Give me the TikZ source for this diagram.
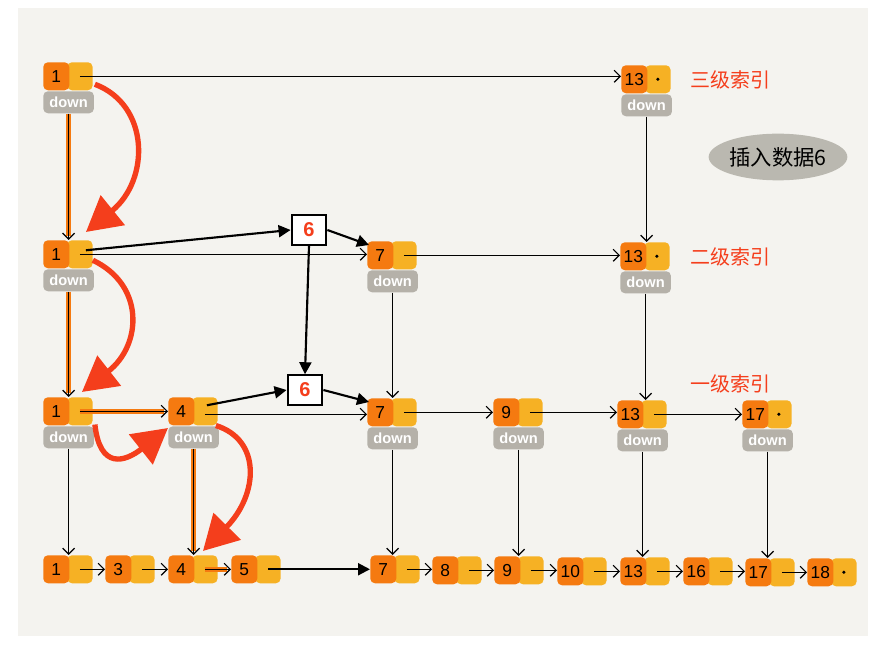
\documentclass[tikz,border=0pt]{standalone}
\usepackage{fontspec}
\setmainfont{Liberation Sans}
\newfontfamily\cjk{Noto Sans CJK SC}
\usetikzlibrary{arrows.meta,calc,shapes.geometric}
\definecolor{korange}{HTML}{F57A10}
\definecolor{kyellow}{HTML}{F6B124}
\definecolor{kgray}{HTML}{B5B1A9}
\definecolor{kred}{HTML}{F43E1C}
\definecolor{kbg}{HTML}{F4F3EF}
\definecolor{blobgray}{HTML}{BAB8B0}
\newcommand\sk[4]{%
  \node[ycell,anchor=north west] (#1n) at (#2+24,#3) {};
  \node[kcell,anchor=north west] (#1) at (#2,#3) {#4};}
\newcommand\sd[3]{\node[dcell,anchor=north west] (#1d) at (#2,#3+29) {down};}
\newcommand\dotin[1]{\fill (#1n.center) circle (1.3pt);}
\begin{document}
\begin{tikzpicture}[x=0.75pt,y=-0.75pt,
  kcell/.style={fill=korange,rounded corners=3.5pt,minimum width=19.5pt,minimum height=21pt,inner sep=0pt,font=\fontsize{13}{13}\selectfont},
  ycell/.style={fill=kyellow,rounded corners=3.5pt,minimum width=19pt,minimum height=21pt,inner sep=0pt},
  dcell/.style={fill=kgray,rounded corners=3.5pt,minimum width=38pt,minimum height=16.5pt,inner sep=0pt,text=white,font=\bfseries\fontsize{11}{11}\selectfont},
  sixbox/.style={draw=black,line width=1.6pt,fill=white,minimum width=26pt,minimum height=22pt,inner sep=0pt,text=kred,font=\bfseries\fontsize{15}{15}\selectfont},
  tarrow/.style={draw=black,line width=0.9pt,-{Straight Barb[length=4.5pt,width=9pt]}},
  karrow/.style={draw=black,line width=1.6pt,-{Triangle[length=9pt,width=9pt]}},
  hl/.style={draw=korange,line width=4pt},
  redarrow/.style={draw=kred,line width=4pt,-{Triangle[length=26pt,width=28pt]}},
  lvl/.style={text=kred,font=\cjk\fontsize{15}{15}\selectfont,anchor=west,inner sep=0pt}]
\fill[white] (0,0) rectangle (882,648);
\fill[kbg] (18,8) rectangle (868,636);
\useasboundingbox (0,0) rectangle (882,648);

% level 3
\sk{t1}{43}{62}{1} \sd{t1}{43}{62}
\sk{t13}{621}{65}{13} \sd{t13}{621}{65} \dotin{t13}
% level 2
\sk{s1}{43}{240}{1} \sd{s1}{43}{240}
\sk{s7}{367}{241}{7} \sd{s7}{367}{241}
\sk{s13}{620}{242}{13} \sd{s13}{620}{242} \dotin{s13}
% level 1
\sk{f1}{43}{397}{1} \sd{f1}{43}{397}
\sk{f4}{168}{397}{4} \sd{f4}{168}{397}
\sk{f7}{367}{398}{7} \sd{f7}{367}{398}
\sk{f9}{493}{398}{9} \sd{f9}{493}{398}
\sk{f13}{617}{400}{13} \sd{f13}{617}{400}
\sk{f17}{742}{400}{17} \sd{f17}{742}{400} \dotin{f17}
% bottom
\sk{b1}{43}{555}{1}
\sk{b3}{105}{555}{3}
\sk{b4}{168}{555}{4}
\sk{b5}{231}{555}{5}
\sk{b7}{370}{555}{7}
\sk{b8}{432}{556}{8}
\sk{b9}{494}{556}{9}
\sk{b10}{557}{557}{10}
\sk{b13}{620}{557}{13}
\sk{b16}{683}{557}{16}
\sk{b17}{745}{558}{17}
\sk{b18}{807}{558}{18} \dotin{b18}

% inserted 6
\node[sixbox] (six2) at (309,230) {6};
\node[sixbox] (six1) at (305,390) {6};

% labels
\node[lvl] (l3) at (690,80) {三级索引};
\node[lvl] (l2) at (690,257) {二级索引};
\node[lvl] (l1) at (690,384) {一级索引};
\node[ellipse,fill=blobgray,minimum width=104pt,minimum height=35pt,inner sep=0pt] (blob) at (778,157) {};
\node[font=\cjk\fontsize{16}{16}\selectfont] (blobtext) at (blob.center) {插入数据6};

% horizontal thin arrows
\draw[tarrow] (t1n.center) -- (t1n.center -| t13.west);
\draw[tarrow] (s1n.center) -- (s1n.center -| s7.west);
\draw[tarrow] (s7n.center) -- (s7n.center -| s13.west);
\draw[hl] (f1n.center) -- ($(f1n.center -| f4.west)+(-4,0)$);
\draw[tarrow] (f1n.center) -- (f1n.center -| f4.west);
\draw[tarrow] ($(f4n.center)+(0,3)$) -- ($(f4n.center -| f7.west)+(0,3)$);
\draw[tarrow] (f7n.center) -- (f7n.center -| f9.west);
\draw[tarrow] (f9n.center) -- (f9n.center -| f13.west);
\draw[tarrow] (f13n.center) -- (f13n.center -| f17.west);
% thick insertion arrows
\draw[karrow] ($(s1n.center)+(6,-4)$) -- (six2.west);
\draw[karrow] (six2.east) -- ($(s7.north west)+(2,4)$);
\draw[karrow] (six2.south) -- (six1.north);
\draw[karrow] ($(f4n.center)+(2,-6)$) -- (six1.west);
\draw[karrow] (six1.east) -- ($(f7.north west)+(2,4)$);

% verticals
\draw[hl] (t1d.south) -- ($(t1d.south |- s1.north)+(0,-4)$);
\draw[tarrow] (t1d.south) -- (t1d.south |- s1.north);
\draw[tarrow] (t13d.south) -- (t13d.south |- s13.north);
\draw[hl] (s1d.south) -- ($(s1d.south |- f1.north)+(0,-4)$);
\draw[tarrow] (s1d.south) -- (s1d.south |- f1.north);
\draw[tarrow] (s7d.south) -- (s7d.south |- f7.north);
\draw[tarrow] (s13d.south) -- (s13d.south |- f13.north);
\draw[tarrow] (f1d.south) -- (f1d.south |- b1.north);
\draw[hl] (f4d.south) -- ($(f4d.south |- b4.north)+(0,-4)$);
\draw[tarrow] (f4d.south) -- (f4d.south |- b4.north);
\draw[tarrow] (f7d.south) -- (f7d.south |- b7.north);
\draw[tarrow] (f9d.south) -- (f9d.south |- b9.north);
\draw[tarrow] (f13d.south) -- (f13d.south |- b13.north);
\draw[tarrow] (f17d.south) -- (f17d.south |- b17.north);

% bottom chain
\draw[tarrow] (b1n.center) -- (b1n.center -| b3.west);
\draw[tarrow] (b3n.center) -- (b3n.center -| b4.west);
\draw[hl] (b4n.center) -- ($(b4n.center -| b5.west)+(-4,0)$);
\draw[tarrow] (b4n.center) -- (b4n.center -| b5.west);
\draw[karrow] (b5n.center) -- (b5n.center -| b7.west);
\draw[tarrow] (b7n.center) -- (b7n.center -| b8.west);
\draw[tarrow] (b8n.center) -- (b8n.center -| b9.west);
\draw[tarrow] (b9n.center) -- (b9n.center -| b10.west);
\draw[tarrow] (b10n.center) -- (b10n.center -| b13.west);
\draw[tarrow] (b13n.center) -- (b13n.center -| b16.west);
\draw[tarrow] (b16n.center) -- (b16n.center -| b17.west);
\draw[tarrow] (b17n.center) -- (b17n.center -| b18.west);

% red search path
\draw[redarrow] ($(t1n.east)+(2,8)$) .. controls (150,105) and (150,180) .. ($(s1n.north)+(6,-8)$);
\draw[redarrow] ($(s1n.east)+(0,6)$) .. controls (145,285) and (142,345) .. ($(f1n.north)+(2,-5)$);
\draw[redarrow] ($(f1n.south east)+(2,-1)$) .. controls (100,470) and (125,462) .. ($(f4d.north west)+(0,2)$);
\draw[redarrow] ($(f4n.south east)+(-2,0)$) .. controls (262,440) and (258,495) .. ($(b4n.north)+(-2,-4)$);
\end{tikzpicture}
\end{document}
